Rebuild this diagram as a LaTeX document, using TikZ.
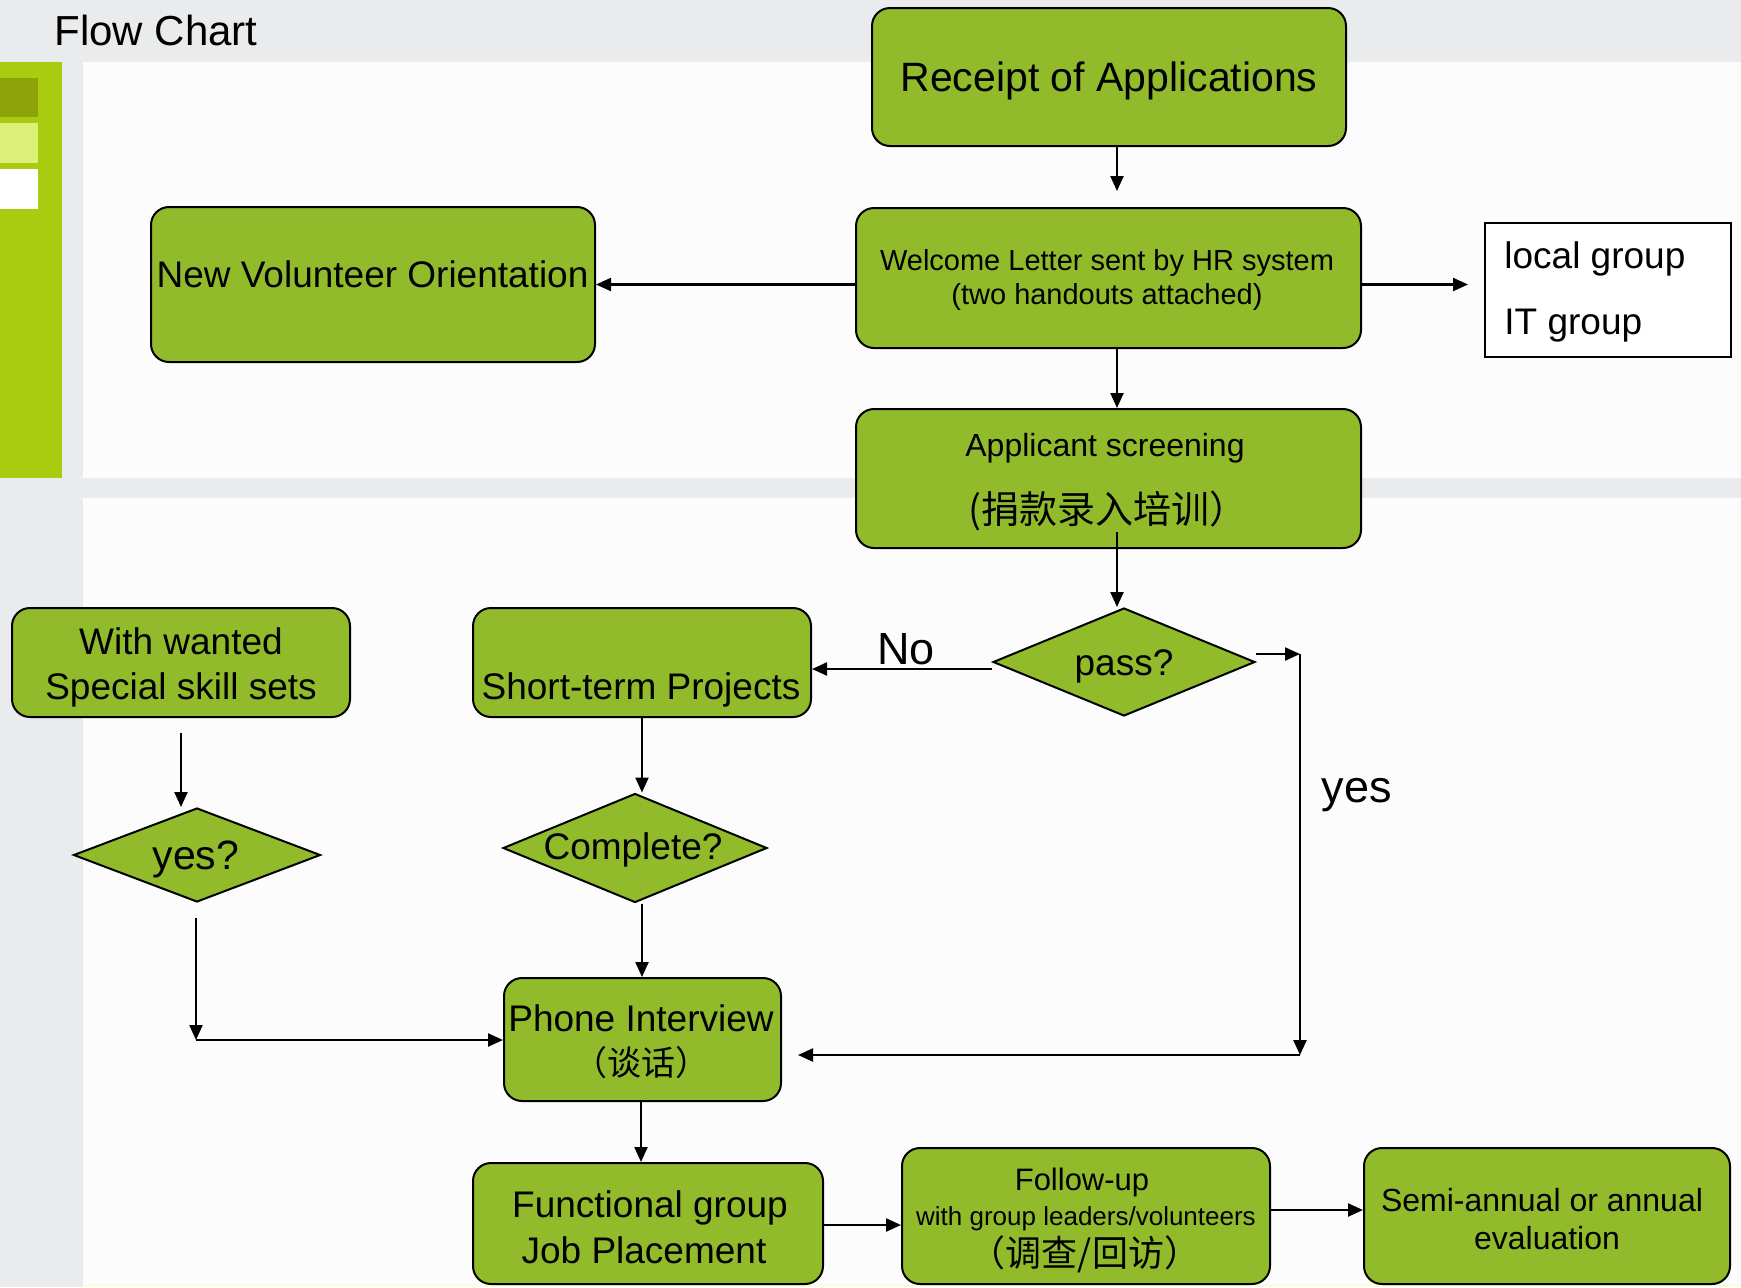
\documentclass[tikz,border=0pt]{standalone}
\usepackage{fontspec}
\setmainfont{Liberation Sans}
\newfontfamily\cjk{Noto Sans CJK SC}
\usetikzlibrary{shapes.geometric,arrows.meta,calc}
\definecolor{boxgreen}{RGB}{146,187,44}
\definecolor{bggray}{RGB}{233,235,237}
\definecolor{panelw}{RGB}{252,252,252}
\definecolor{stripgreen}{RGB}{169,204,16}
\definecolor{sqdark}{RGB}{142,163,10}
\definecolor{sqlight}{RGB}{220,240,120}
\definecolor{paleyel}{RGB}{252,252,225}
\newcommand\fsz[1]{\fontsize{#1pt}{#1pt}\selectfont}
\begin{document}
\begin{tikzpicture}[x=0.5pt,y=-0.5pt,
  gbox/.style={draw, line width=1pt, fill=boxgreen, rounded corners=9pt, inner sep=0pt, align=center},
  dia/.style={diamond, draw, line width=1pt, fill=boxgreen, inner sep=0pt},
  txt/.style={inner sep=0pt, align=center},
  arr/.style={line width=1.15pt, -{Triangle[length=7.5pt,width=6.5pt]}}]
\useasboundingbox (0,0) rectangle (1741,1287);
% background
\fill[bggray] (0,0) rectangle (1741,1287);
\fill[panelw] (83,62) rectangle (1741,478);
\fill[panelw] (83,498) rectangle (1741,1287);
\fill[stripgreen] (0,62) rectangle (62,478);
\fill[sqdark] (0,78) rectangle (38,117);
\fill[sqlight] (0,123) rectangle (38,163);
\fill[white] (0,169) rectangle (38,209);
\fill[paleyel] (83,1284) rectangle (1741,1287);
\node[anchor=base west, inner sep=0pt, font=\fsz{21}] (title) at (54,45) {Flow Chart};
% boxes
\node[gbox, minimum width=237pt, minimum height=69pt] (receipt) at (1109,77) {};
\node[txt, font=\fsz{20.5}] (receiptt) at (1109,81) {Receipt of Applications};
\node[gbox, minimum width=252.5pt, minimum height=70pt] (welcome) at (1108.5,278) {};
\node[txt, font=\fontsize{14.5pt}{17pt}\selectfont] (welcomet) at (1107,280) {Welcome Letter sent by HR system\\(two handouts attached)};
\node[gbox, minimum width=222pt, minimum height=77.5pt] (nvo) at (373,284.5) {};
\node[txt, font=\fsz{18.5}] (nvot) at (372.5,274) {New Volunteer Orientation};
\node[draw, line width=1pt, fill=white, minimum width=123pt, minimum height=67pt, inner sep=0pt] (local) at (1608,290) {};
\node[txt, anchor=west, font=\fsz{18.5}] (local1) at (1504,259) {local group};
\node[txt, anchor=west, font=\fsz{18.5}] (local2) at (1504,326) {IT group};
\node[gbox, minimum width=252.5pt, minimum height=69.5pt] (appl) at (1108.5,478.5) {};
\node[txt, font=\fsz{16}] (appl1) at (1105,448) {Applicant screening};
\node[txt, font=\fsz{19}\cjk] (appl2) at (1108,511) {(捐款录入培训）};
\node[gbox, minimum width=169pt, minimum height=54.5pt] (wanted) at (181,662.5) {};
\node[txt, font=\fontsize{18.5pt}{22.5pt}\selectfont] (wantedt) at (181,667) {With wanted\\Special skill sets};
\node[gbox, minimum width=169pt, minimum height=54.5pt] (short) at (642,662.5) {};
\node[txt, font=\fsz{18.5}] (shortt) at (641,690) {Short-term Projects};
% diamonds
\node[dia, minimum width=131pt, minimum height=54pt] (pass) at (1124,662) {};
\node[txt, font=\fsz{18.5}] (passt) at (1124,666) {pass?};
\node[dia, minimum width=132pt, minimum height=54.5pt] (compl) at (635,848) {};
\node[txt, font=\fsz{18.5}] (complt) at (633,850) {Complete?};
\node[dia, minimum width=123.5pt, minimum height=47pt] (yesq) at (197,855) {};
\node[txt, font=\fsz{20.5}] (yesqt) at (196,859) {yes?};
% lower boxes
\node[gbox, minimum width=138.5pt, minimum height=61.5pt] (phone) at (642.5,1039.5) {};
\node[txt, font=\fsz{18.5}] (phone1) at (641,1018) {Phone Interview};
\node[txt, font=\fsz{17}\cjk] (phone2) at (641,1063) {（谈话）};
\node[gbox, minimum width=175pt, minimum height=60.5pt] (func) at (648,1223.5) {};
\node[txt, font=\fsz{18.5}] (func1) at (650,1208) {Functional group};
\node[txt, font=\fsz{18.5}] (func2) at (644,1250) {Job Placement};
\node[gbox, minimum width=184pt, minimum height=68pt] (follow) at (1086,1216) {};
\node[txt, font=\fsz{15.5}] (follow1) at (1082,1182) {Follow-up};
\node[txt, font=\fsz{13}] (follow2) at (1086,1219) {with group leaders/volunteers};
\node[txt, font=\fsz{18}\cjk] (follow3) at (1085,1254) {（调查/回访）};
\node[gbox, minimum width=183pt, minimum height=68pt] (semi) at (1547,1216) {};
\node[txt, font=\fsz{16}] (semi1) at (1542,1200) {Semi-annual or annual};
\node[txt, font=\fsz{16}] (semi2) at (1547,1238) {evaluation};
% labels
\node[txt, font=\fsz{22.5}] (nolab) at (906,649) {No};
\node[txt, font=\fsz{22.5}] (yeslab) at (1357,795) {yes};
% coordinates
\coordinate (ax) at (1117,0);
\coordinate (c1) at (1300,654);
\coordinate (c2) at (1300,1055);
\coordinate (c3) at (196,1040);
\coordinate (noy) at (0,669);
\coordinate (fy) at (0,1225);
\coordinate (sy) at (0,1210);
% connectors
\draw[arr] (receipt.south -| ax) -- ($(welcome.north -| ax)+(0,-16)$);
\draw[arr] (welcome.west |- nvo.east) -- (nvo.east);
\draw[arr] (welcome.east |- nvo.east) -- ($(local.west |- nvo.east)+(-16,0)$);
\draw[arr] (welcome.south -| ax) -- (appl.north -| ax);
\draw[arr] ($(appl.south -| ax)+(0,-17)$) -- (pass.north -| ax);
\draw[arr] (pass.west |- noy) -- (short.east |- noy);
\draw[arr] ($(pass.east)+(0,-8)$) -- (c1);
\draw[arr] (c1) -- (c2);
\draw[arr] (c2) -- ($(phone.east |- c2)+(16,0)$);
\draw[arr] (short.south) -- (short.south |- compl.north);
\draw[arr] (compl.south -| short.south) -- (phone.north -| short.south);
\draw[arr] ($(wanted.south)+(0,15)$) -- (wanted.south |- yesq.north);
\draw[arr] ($(yesq.south)+(-1,15)$) -- (c3);
\draw[arr] (c3) -- (phone.west |- c3);
\draw[arr] ($(phone.south)+(-1.5,0)$) -- ($(func.north)+(-7,0)$);
\draw[arr] (func.east |- fy) -- (follow.west |- fy);
\draw[arr] (follow.east |- sy) -- (semi.west |- sy);
\end{tikzpicture}
\end{document}
